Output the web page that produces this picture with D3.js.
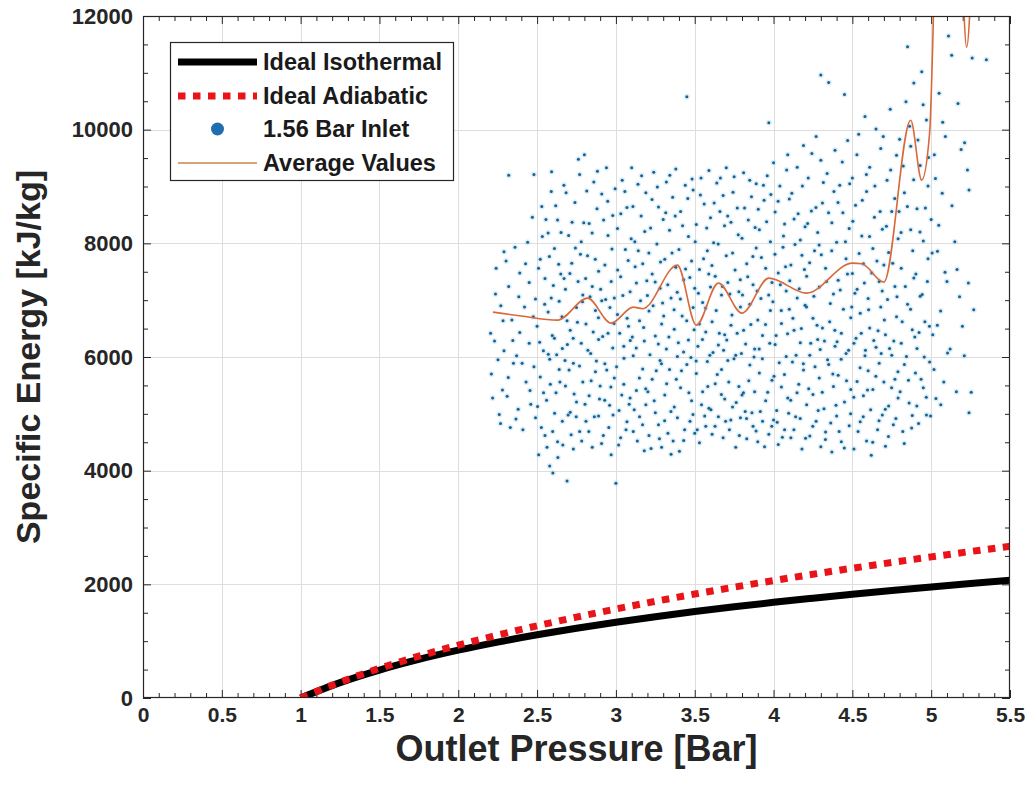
<!DOCTYPE html>
<html><head><meta charset="utf-8">
<script src="https://cdn.jsdelivr.net/npm/d3@7"></script>
<style>
html,body{margin:0;padding:0;background:#fff;}
svg{display:block;font-family:"Liberation Sans",Arial,Helvetica,sans-serif;}
</style></head>
<body><svg id="chart" width="1034" height="794"></svg>
<script>
// ---------- data ----------
const xTicks = [0,0.5,1,1.5,2,2.5,3,3.5,4,4.5,5,5.5];
const xTickLabels = ["0","0.5","1","1.5","2","2.5","3","3.5","4","4.5","5","5.5"];
const yTicks = [0,2000,4000,6000,8000,10000,12000];
const yTickLabels = ["0","2000","4000","6000","8000","10000","12000"];
const seriesNames = ["Ideal Isothermal","Ideal Adiabatic","1.56 Bar Inlet","Average Values"];

const pressure = [1,1.25,1.5,1.75,2,2.25,2.5,2.75,3,3.25,3.5,3.75,4,4.25,4.5,4.75,5,5.25,5.5];
const isothermal = [0,271,492,679,841,984,1112,1228,1334,1431,1521,1604,1683,1756,1826,1892,1954,2013,2070];
const adiabatic = [0,279,521,736,929,1106,1270,1422,1566,1701,1829,1950,2066,2177,2283,2385,2483,2578,2670];

const avgX = [2.22,2.40,2.63,2.82,2.97,3.11,3.17,3.39,3.51,3.65,3.80,3.97,4.21,4.50,4.56,4.70,4.87,4.94,4.99,5.03,5.10,5.18,5.225,5.26];
const avgY = [6790,6720,6649,7036,6596,6878,6850,7617,6561,7300,6772,7388,7124,7652,7640,7318,10167,9112,9938,13500,16000,14000,11450,13000];

const scatterA = [
[2.21,5700],[2.23,6280],[2.24,7560],[2.26,4990],[2.27,6900],[2.28,5420],[2.29,7850],[2.29,6110],
[2.31,5310],[2.32,7240],[2.33,4760],[2.34,6650],[2.35,5890],[2.36,7930],[2.37,6020],[2.38,5080],[2.39,7480],[2.39,6430],[2.32,9200],
[2.41,4720],[2.42,6880],[2.43,5560],[2.44,8020],[2.45,6240],[2.45,7310],[2.46,5170],[2.47,8460],[2.48,9210],[2.48,5830],[2.49,7020],[2.49,4930],
[2.50,6540],[2.51,4280],[2.52,7720],[2.52,5650],[2.53,8650],[2.54,6110],[2.55,4620],[2.55,7380],[2.56,5240],[2.57,8180],[2.57,6790],[2.58,4080],[2.58,5960],[2.59,7040],[2.59,8910],
[2.60,3960],[2.61,6330],[2.61,7910],[2.62,5370],[2.63,4510],[2.63,8410],[2.64,6980],[2.64,5780],[2.65,7460],[2.66,4870],[2.66,6150],[2.67,9020],[2.68,5490],[2.68,7190],[2.69,3820],[2.69,6640],
[2.70,8140],[2.71,5030],[2.71,6470],[2.72,7650],[2.73,4380],[2.73,5890],[2.74,8720],[2.75,6870],[2.75,5210],[2.76,7330],[2.77,4690],[2.77,9210],[2.78,6240],[2.78,8030],[2.79,5560],[2.79,7090],
[2.80,9560],[2.81,4870],[2.81,6580],[2.82,7780],[2.83,5320],[2.83,8350],[2.84,6060],[2.85,4410],[2.85,7240],[2.86,9080],[2.87,5740],[2.87,6820],[2.88,8610],[2.89,4960],[2.89,7510],[2.89,6310],
[2.90,5490],[2.91,8870],[2.91,6990],[2.92,4620],[2.93,7620],[2.93,5880],[2.94,9330],[2.95,6420],[2.95,8140],[2.96,5150],[2.97,7330],[2.97,4280],[2.98,6160],[2.98,8490],[2.99,5630],[2.99,7040],
[3.00,3780],[3.01,6750],[3.01,8260],[3.02,5060],[3.03,7410],[3.03,4580],[3.04,9110],[3.05,6190],[3.05,5520],[3.06,7890],[3.07,4860],[3.07,8630],[3.08,6540],[3.09,5280],[3.09,7150],[3.10,9330],
[3.11,4690],[3.11,6020],[3.12,8030],[3.13,5410],[3.13,7300],[3.14,9040],[3.15,4950],[3.15,6640],[3.16,8480],[3.17,5790],[3.17,7640],[3.18,4350],[3.18,6280],[3.19,8890],[3.19,5160],[3.20,7080],
[3.21,6810],[3.21,4620],[3.22,8270],[3.23,5610],[3.23,7460],[3.24,9250],[3.25,5020],[3.25,6370],[3.26,7990],[3.27,4810],[3.27,8640],[3.28,5940],[3.28,7210],[3.29,4410],[3.29,6580],[3.30,8420],
[3.31,5330],[3.31,7720],[3.32,9080],[3.32,6140],[3.33,4660],[3.34,8230],[3.34,5780],[3.35,7040],[3.35,4290],[3.36,8810],[3.37,6490],[3.37,5120],[3.38,7580],[3.38,9310],[3.39,6010],[3.39,4930],[3.40,7890],
[3.41,5460],[3.41,8560],[3.42,6720],[3.43,4530],[3.43,7360],[3.44,9020],[3.45,10580],[3.45,5870],[3.46,6300],[3.46,8120],[3.47,4870],[3.48,7690],[3.48,5230],[3.49,8940],[3.49,6870],[3.50,4660],[3.50,7210],
[3.51,5710],[3.51,8330],[3.52,6190],[3.53,4490],[3.53,7540],[3.54,9150],[3.55,5390],[3.55,6960],[3.56,8690],[3.57,4780],[3.57,6440],[3.58,7870],[3.58,5920],[3.59,9280],[3.59,5100],[3.60,7230],[3.60,8450],
[3.61,4640],[3.61,6620],[3.62,8010],[3.63,5530],[3.63,7420],[3.64,9060],[3.65,4950],[3.65,6210],[3.66,8560],[3.67,5780],[3.67,7090],[3.68,4580],[3.68,8840],[3.69,6390],[3.69,5260],[3.70,7780],[3.70,9330],
[3.71,5940],[3.71,7310],[3.72,4720],[3.73,8370],[3.73,6560],[3.74,5120],[3.74,7830],[3.75,9170],[3.76,4410],[3.76,6030],[3.77,8620],[3.78,5480],[3.78,7150],[3.79,6880],[3.79,4930],[3.80,8090],[3.80,5330],
[3.81,6470],[3.81,9240],[3.82,5040],[3.83,7640],[3.83,4560],[3.84,8410],[3.85,5860],[3.85,6930],[3.86,8820],[3.87,4780],[3.87,7270],[3.88,5390],[3.88,6140],[3.89,9050],[3.89,7920],[3.90,4510],[3.90,6650],
[3.91,5720],[3.91,8240],[3.92,7030],[3.93,4870],[3.93,6380],[3.94,8760],[3.95,5230],[3.95,7560],[3.96,9190],[3.97,10120],[3.97,4640],[3.98,6820],[3.98,8030],[3.99,5590],[3.99,7310],[4.00,4890],[4.00,9420],
[4.01,6220],[4.01,8550],[4.02,5060],[4.03,7480],[4.03,4460],[4.04,9010],[4.05,6590],[4.05,5470],[4.06,7930],[4.07,4720],[4.07,8340],[4.08,6010],[4.08,7160],[4.09,9560],[4.09,5280],[4.10,6840],[4.10,8780],
[4.11,4580],[4.11,7620],[4.12,5910],[4.13,8430],[4.13,6470],[4.14,4950],[4.15,9340],[4.15,7040],[4.16,5520],[4.17,8060],[4.17,6250],[4.18,4380],[4.18,7790],[4.19,9720],[4.19,5770],[4.20,6910],[4.20,8290],
[4.21,5160],[4.21,7420],[4.22,9150],[4.23,6030],[4.23,4610],[4.24,8570],[4.25,6680],[4.25,5340],[4.26,7870],[4.27,9880],[4.27,4870],[4.28,6310],[4.28,8190],[4.29,5630],[4.29,7230],[4.30,4420],[4.30,9460],
[4.31,6510],[4.31,8710],[4.32,5090],[4.33,7560],[4.33,4680],[4.34,9230],[4.35,10830],[4.35,5870],[4.36,6940],[4.37,8360],[4.37,4330],[4.38,7110],[4.38,5480],[4.39,9640],[4.39,6190],[4.40,8020],[4.40,4960],[4.30,10960],
[4.41,7350],[4.41,5680],[4.42,9020],[4.43,6420],[4.43,4510],[4.44,8540],[4.45,10620],[4.45,5210],[4.46,7730],[4.46,6060],[4.47,9810],[4.48,4790],[4.48,8260],[4.49,6690],[4.49,5430],[4.50,7470],[4.50,9150],
[4.51,4380],[4.51,6240],[4.52,8670],[4.53,5570],[4.53,7190],[4.54,9920],[4.55,4860],[4.55,6770],[4.56,8130],[4.57,5320],[4.57,7640],[4.58,10230],[4.58,6020],[4.59,4520],[4.59,8910],[4.60,7030],[4.60,5760],
[4.61,9340],[4.61,6510],[4.62,4270],[4.63,7910],[4.63,5430],[4.64,8460],[4.65,6170],[4.65,10010],[4.66,4720],[4.67,7330],[4.67,5890],[4.68,9670],[4.68,6880],[4.69,4980],[4.69,8250],[4.70,5560],[4.70,7620],
[4.71,4430],[4.71,6390],[4.72,9110],[4.73,5140],[4.73,7840],[4.74,10360],[4.75,6030],[4.75,8560],[4.76,4810],[4.77,7240],[4.77,5610],[4.78,9550],[4.78,6710],[4.79,8080],[4.79,5280],[4.80,9830],
[4.81,6240],[4.81,7560],[4.82,4690],[4.83,8890],[4.83,5870],[4.84,10490],[4.85,11460],[4.85,6930],[4.86,5190],[4.87,8240],[4.87,9710],[4.88,6480],[4.88,4970],[4.89,7390],[4.89,10820],[4.90,5720],
[4.91,8610],[4.91,6150],[4.92,4830],[4.93,9370],[4.93,7070],[4.94,11020],[4.95,5460],[4.95,8040],[4.96,6620],[4.97,10170],[4.97,4980],[4.98,7730],[4.98,9010],[4.99,5910],[5.00,8420],
[5.01,6390],[5.02,9560],[5.03,5270],[5.04,7860],[5.05,10640],[5.06,6810],[5.07,8880],[5.08,5560],[5.09,9880],[5.10,7330],
[5.11,11650],[5.12,6140],[5.13,11310],[5.15,8030],[5.16,5390],[5.17,10460],[5.18,7060],[5.19,9650],
[5.21,6020],[5.23,9290],[5.24,8940],[5.24,5020],[5.26,11260],[5.27,6830],[5.35,11230]
];
const scatterB = [
[2.205,6420],[2.218,5280],[2.236,7110],[2.252,5950],[2.268,4830],[2.284,6640],[2.303,7690],[2.317,5640],[2.346,6290],[2.366,4910],[2.384,7060],[2.405,5890],[2.427,7640],[2.455,5410],[2.476,6710],
[2.503,5130],[2.509,7560],[2.516,6260],[2.527,4760],[2.533,8120],[2.541,5370],[2.548,6930],[2.556,8420],[2.563,4410],[2.571,6050],[2.578,7770],[2.584,5520],[2.592,9260],[2.596,6380],[2.599,4690],
[2.603,7260],[2.611,5010],[2.618,8660],[2.624,6040],[2.632,4230],[2.637,7630],[2.645,5560],[2.652,8190],[2.658,6710],[2.663,4450],[2.671,7380],[2.677,5940],[2.684,8890],[2.692,6220],[2.697,4980],
[2.703,5770],[2.708,7470],[2.716,4630],[2.722,8370],[2.729,6330],[2.735,5350],[2.743,7920],[2.748,4950],[2.756,6610],[2.762,9480],[2.769,5840],[2.775,7810],[2.783,4520],[2.788,6970],[2.796,8360],
[2.804,5170],[2.808,7380],[2.815,8920],[2.822,6120],[2.828,4690],[2.836,7060],[2.843,5580],[2.849,8180],[2.856,6440],[2.863,4950],[2.869,7720],[2.876,5930],[2.883,9270],[2.889,6690],[2.896,5260],
[2.903,7190],[2.909,4480],[2.916,6360],[2.922,8410],[2.929,5240],[2.935,7010],[2.942,5770],[2.948,8740],[2.955,4760],[2.962,6870],[2.968,5470],[2.975,7900],[2.982,4980],[2.988,6590],[2.995,8960],
[3.004,5830],[3.011,7530],[3.017,4450],[3.024,6420],[3.031,8520],[3.037,5330],[3.044,7080],[3.051,5980],[3.057,8910],[3.064,4720],[3.071,6680],[3.078,7700],[3.084,5170],[3.091,6290],[3.097,8080],
[3.104,6350],[3.108,8650],[3.116,5070],[3.122,7590],[3.129,6160],[3.136,4520],[3.142,7870],[3.149,5630],[3.156,6990],[3.163,9190],[3.169,4810],[3.176,6520],[3.183,8210],[3.189,5440],[3.196,7340],
[3.203,5390],[3.209,7830],[3.216,6040],[3.223,4390],[3.229,8770],[3.236,6900],[3.243,5230],[3.249,7320],[3.256,5760],[3.263,8990],[3.269,6230],[3.276,4560],[3.283,7670],[3.289,5880],[3.296,6950],
[3.303,6720],[3.309,4880],[3.316,8540],[3.322,5530],[3.329,7270],[3.336,6350],[3.342,9200],[3.349,5040],[3.356,7830],[3.363,4520],[3.369,6830],[3.376,8480],[3.383,5610],[3.389,7140],[3.396,6250],
[3.403,4340],[3.409,7020],[3.416,5760],[3.423,8310],[3.429,6090],[3.436,4720],[3.442,7550],[3.449,6640],[3.456,8790],[3.463,5370],[3.469,7400],[3.476,5990],[3.483,9130],[3.489,4990],[3.496,6480],
[3.503,8030],[3.509,5930],[3.516,4720],[3.523,7120],[3.529,6580],[3.536,8850],[3.543,5160],[3.549,6310],[3.556,7730],[3.563,4960],[3.569,6860],[3.576,8270],[3.583,5480],[3.589,7460],[3.596,6030],
[3.603,5070],[3.609,7610],[3.616,6080],[3.623,8710],[3.629,4780],[3.636,6820],[3.643,5690],[3.649,7990],[3.656,6420],[3.663,9150],[3.669,5340],[3.676,7240],[3.683,6120],[3.689,8310],[3.696,4870],
[3.703,6300],[3.709,8480],[3.716,5560],[3.723,7110],[3.729,4890],[3.736,6740],[3.743,8900],[3.749,5970],[3.756,7530],[3.763,5200],[3.769,6420],[3.776,8150],[3.783,4620],[3.789,7360],[3.796,6060],
[3.803,7090],[3.809,5370],[3.816,8620],[3.823,6230],[3.829,4920],[3.836,7410],[3.843,5580],[3.849,9110],[3.856,6570],[3.863,5020],[3.869,7770],[3.876,6000],[3.883,8280],[3.889,4700],[3.896,7160],
[3.903,8600],[3.909,6140],[3.916,5040],[3.923,7750],[3.929,5970],[3.936,9020],[3.943,4420],[3.949,6570],[3.956,8380],[3.963,5380],[3.969,7090],[3.976,6240],[3.983,8860],[3.989,4780],[3.996,6970],
[4.003,5660],[4.009,7810],[4.016,6380],[4.023,4850],[4.029,8740],[4.036,5900],[4.043,7270],[4.049,6820],[4.056,4590],[4.063,8130],[4.069,5690],[4.076,7590],[4.083,9290],[4.089,6410],[4.096,5010],
[4.103,7340],[4.109,5240],[4.116,8880],[4.123,6680],[4.129,4720],[4.136,7980],[4.143,6030],[4.149,5370],[4.156,8520],[4.163,7200],[4.169,4920],[4.176,6500],[4.183,9010],[4.189,5880],[4.196,7540],
[4.203,4570],[4.209,6880],[4.216,8350],[4.223,5440],[4.229,7660],[4.236,6240],[4.243,9580],[4.249,4780],[4.256,7070],[4.263,5830],[4.269,8630],[4.276,6560],[4.283,5060],[4.289,7970],[4.296,6130],
[4.303,7800],[4.309,5380],[4.316,9070],[4.323,6280],[4.329,4550],[4.336,7330],[4.343,5950],[4.349,8540],[4.356,6620],[4.363,4840],[4.369,7870],[4.376,5700],[4.383,8910],[4.389,6470],[4.396,5150],
[4.403,6270],[4.409,8720],[4.416,4690],[4.423,7180],[4.429,5960],[4.436,9430],[4.443,6840],[4.449,4400],[4.456,8030],[4.463,5580],[4.469,7460],[4.476,6120],[4.483,9050],[4.489,5000],[4.496,6880],
[4.503,8390],[4.509,5290],[4.516,7120],[4.523,6330],[4.529,9560],[4.536,4690],[4.543,7820],[4.549,5810],[4.556,6420],[4.563,8760],[4.569,4950],[4.576,7300],[4.583,6120],[4.589,9210],[4.596,5420],
[4.603,6830],[4.609,8120],[4.616,5070],[4.623,7480],[4.629,4500],[4.636,6290],[4.643,9010],[4.649,5660],[4.656,7690],[4.663,6460],[4.669,4880],[4.676,8560],[4.683,6060],[4.689,7160],[4.696,9880],
[4.703,6650],[4.709,5080],[4.716,8300],[4.723,7010],[4.729,4600],[4.736,6150],[4.743,9290],[4.749,5460],[4.756,7650],[4.763,6280],[4.769,8790],[4.776,4920],[4.783,7060],[4.789,5740],[4.796,8560],
[4.803,5390],[4.809,8190],[4.816,6620],[4.823,9360],[4.829,4480],[4.836,7240],[4.843,6010],[4.849,8650],[4.856,5590],[4.863,10060],[4.869,6840],[4.876,4750],[4.883,7870],[4.889,9120],[4.896,6350],
[4.903,7460],[4.909,5140],[4.916,9820],[4.923,6430],[4.929,8200],[4.936,5610],[4.943,7100],[4.949,10440],[4.956,6000],[4.963,8620],[4.969,5290],[4.976,7330],[4.983,9510],[4.989,6540],[4.996,4960],
[5.006,7830],[5.018,5780],[5.027,9140],[5.039,6560],[5.048,8320],[5.061,5160],[5.073,10130],[5.088,7490],[5.104,6070],[5.132,8660],[5.164,7540],[5.198,6540],[5.212,9770],[5.236,7300],[5.254,5380]
];
const scatterPts = scatterA.concat(scatterB);

// ---------- layout ----------
const W = 1034, H = 794;
const plot = {left:143, right:1010, top:16, bottom:698};
const svg = d3.select("#chart");
const x = d3.scaleLinear().domain([0,5.5]).range([plot.left, plot.right]);
const y = d3.scaleLinear().domain([0,12000]).range([plot.bottom, plot.top]);
const axisColor = "#262626";
const fontFam = "'Liberation Sans', Arial, Helvetica, sans-serif";

svg.append("rect").attr("width",W).attr("height",H).attr("fill","#fff");
svg.append("defs").append("clipPath").attr("id","clip")
  .append("rect").attr("x",plot.left).attr("y",plot.top)
  .attr("width",plot.right-plot.left).attr("height",plot.bottom-plot.top);

// grid
const grid = svg.append("g").attr("stroke","#dedede").attr("stroke-width",1);
grid.selectAll("line.gx").data(xTicks.slice(1,-1)).join("line")
  .attr("x1",d=>Math.round(x(d))+0.5).attr("x2",d=>Math.round(x(d))+0.5)
  .attr("y1",plot.top).attr("y2",plot.bottom);
grid.selectAll("line.gy").data(yTicks.slice(1,-1)).join("line")
  .attr("y1",d=>Math.round(y(d))+0.5).attr("y2",d=>Math.round(y(d))+0.5)
  .attr("x1",plot.left).attr("x2",plot.right);

// axes (ticks inward on all four sides)
const xMinor = d3.range(0,56).map(i=>i/10).filter(v=>Math.abs(v*2-Math.round(v*2))>1e-6);
const yMinor = d3.range(0,25).map(i=>i*500).filter(v=>v%2000!==0);
function styleAxis(g,fs){
  g.select(".domain").remove();
  g.selectAll("line").attr("stroke",axisColor).attr("stroke-width",1);
  g.selectAll("text").attr("fill",axisColor).attr("font-family",fontFam)
    .attr("font-weight","bold").attr("font-size",fs||22);
}
const gxB = svg.append("g").attr("transform",`translate(0,${plot.bottom})`)
  .call(d3.axisBottom(x).tickValues(xTicks).tickFormat((d,i)=>xTickLabels[i]).tickSize(-8).tickPadding(9));
styleAxis(gxB,21);
const gxBm = svg.append("g").attr("transform",`translate(0,${plot.bottom})`)
  .call(d3.axisBottom(x).tickValues(xMinor).tickFormat("").tickSize(-5));
styleAxis(gxBm);
const gxT = svg.append("g").attr("transform",`translate(0,${plot.top})`)
  .call(d3.axisTop(x).tickValues(xTicks).tickFormat("").tickSize(-8));
styleAxis(gxT);
const gxTm = svg.append("g").attr("transform",`translate(0,${plot.top})`)
  .call(d3.axisTop(x).tickValues(xMinor).tickFormat("").tickSize(-5));
styleAxis(gxTm);
const gyL = svg.append("g").attr("transform",`translate(${plot.left},0)`)
  .call(d3.axisLeft(y).tickValues(yTicks).tickFormat((d,i)=>yTickLabels[i]).tickSize(-8).tickPadding(10));
styleAxis(gyL,22);
const gyLm = svg.append("g").attr("transform",`translate(${plot.left},0)`)
  .call(d3.axisLeft(y).tickValues(yMinor).tickFormat("").tickSize(-5));
styleAxis(gyLm);
const gyR = svg.append("g").attr("transform",`translate(${plot.right},0)`)
  .call(d3.axisRight(y).tickValues(yTicks).tickFormat("").tickSize(-8));
styleAxis(gyR);
const gyRm = svg.append("g").attr("transform",`translate(${plot.right},0)`)
  .call(d3.axisRight(y).tickValues(yMinor).tickFormat("").tickSize(-5));
styleAxis(gyRm);

// data layer
const layer = svg.append("g").attr("clip-path","url(#clip)");
const line = d3.line().x(d=>x(d[0])).y(d=>y(d[1])).curve(d3.curveMonotoneX);

// scatter
const sc = layer.append("g");
sc.selectAll("circle.h").data(scatterPts).join("circle")
  .attr("cx",d=>x(d[0])).attr("cy",d=>y(d[1])).attr("r",3)
  .attr("fill","#a6d8f2").attr("opacity",0.4);
sc.selectAll("circle.c").data(scatterPts).join("circle")
  .attr("cx",d=>x(d[0])).attr("cy",d=>y(d[1])).attr("r",1.5)
  .attr("fill","#1b5f8c");

// isothermal
layer.append("path").datum(pressure.map((p,i)=>[p,isothermal[i]]))
  .attr("d",line).attr("fill","none").attr("stroke","#000").attr("stroke-width",7);
// adiabatic
layer.append("path").datum(pressure.map((p,i)=>[p,adiabatic[i]]))
  .attr("d",line).attr("fill","none").attr("stroke","#e8141a").attr("stroke-width",7)
  .attr("stroke-dasharray","7.5,7.5");
// average
layer.append("path").datum(avgX.map((p,i)=>[p,avgY[i]]))
  .attr("d",line).attr("fill","none").attr("stroke","#d9683a").attr("stroke-width",1.6);

// frame
svg.append("rect").attr("x",plot.left+0.5).attr("y",plot.top+0.5)
  .attr("width",plot.right-plot.left-1).attr("height",plot.bottom-plot.top-1)
  .attr("fill","none").attr("stroke",axisColor).attr("stroke-width",1.2);

// axis labels
svg.append("text").attr("x",(plot.left+plot.right)/2).attr("y",761)
  .attr("text-anchor","middle").attr("font-family",fontFam).attr("font-weight","bold")
  .attr("font-size",36).attr("fill",axisColor).text("Outlet Pressure [Bar]");
svg.append("text").attr("transform",`translate(40,${(plot.top+plot.bottom)/2}) rotate(-90)`)
  .attr("text-anchor","middle").attr("font-family",fontFam).attr("font-weight","bold")
  .attr("font-size",34).attr("fill",axisColor).text("Specific Energy [kJ/kg]");

// legend
const lg = svg.append("g");
lg.append("rect").attr("x",170.5).attr("y",42.5).attr("width",283).attr("height",138)
  .attr("fill","#fff").attr("stroke",axisColor).attr("stroke-width",1.2);
const rowY = [62,96,129,163];
const lx1 = 178, lx2 = 257, tx = 263;
lg.append("line").attr("x1",lx1).attr("x2",lx2).attr("y1",rowY[0]).attr("y2",rowY[0])
  .attr("stroke","#000").attr("stroke-width",7);
lg.append("line").attr("x1",lx1).attr("x2",lx2).attr("y1",rowY[1]).attr("y2",rowY[1])
  .attr("stroke","#e8141a").attr("stroke-width",7).attr("stroke-dasharray","7.5,7.5");
lg.append("circle").attr("cx",(lx1+lx2)/2).attr("cy",rowY[2]).attr("r",6.5).attr("fill","#1f6fb0");
lg.append("line").attr("x1",lx1).attr("x2",lx2).attr("y1",rowY[3]).attr("y2",rowY[3])
  .attr("stroke","#c8864a").attr("stroke-width",1.6);
lg.selectAll("text").data(seriesNames).join("text")
  .attr("x",tx).attr("y",(d,i)=>rowY[i]).attr("dy","0.36em")
  .attr("font-family",fontFam).attr("font-weight","bold").attr("font-size",23.5)
  .attr("fill","#1a1a1a").text(d=>d);
</script></body></html>
